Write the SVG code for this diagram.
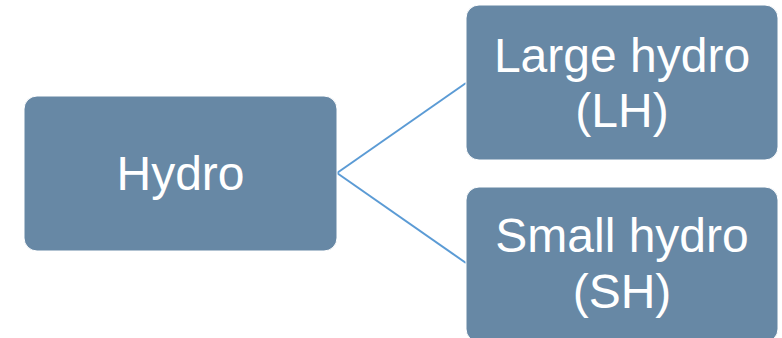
<svg xmlns="http://www.w3.org/2000/svg" width="782" height="338" viewBox="0 0 782 338">
  <style>
    .box { fill: #6788A5; stroke: #ffffff; stroke-width: 1; }
    .label { fill: #ffffff; font-family: "Liberation Sans", Arial, sans-serif; font-size: 48px; text-anchor: middle; }
    .link { stroke: #5B9BD5; stroke-width: 2; fill: none; }
  </style>
  <rect width="782" height="338" fill="#ffffff"/>
  <g id="connectors">
    <path class="link" d="M337 173 L466 83"/>
    <path class="link" d="M337 173 L466 263"/>
  </g>
  <g id="hydro">
    <rect class="box" x="24" y="96" width="313" height="155" rx="13"/>
    <text class="label" x="180.5" y="190">Hydro</text>
  </g>
  <g id="large-hydro">
    <rect class="box" x="466" y="5" width="312" height="155" rx="13"/>
    <text class="label" x="622" y="72">Large hydro</text>
    <text class="label" x="622" y="127">(LH)</text>
  </g>
  <g id="small-hydro">
    <rect class="box" x="466" y="187" width="312" height="155" rx="13"/>
    <text class="label" x="622" y="252">Small hydro</text>
    <text class="label" x="622" y="308">(SH)</text>
  </g>
</svg>
